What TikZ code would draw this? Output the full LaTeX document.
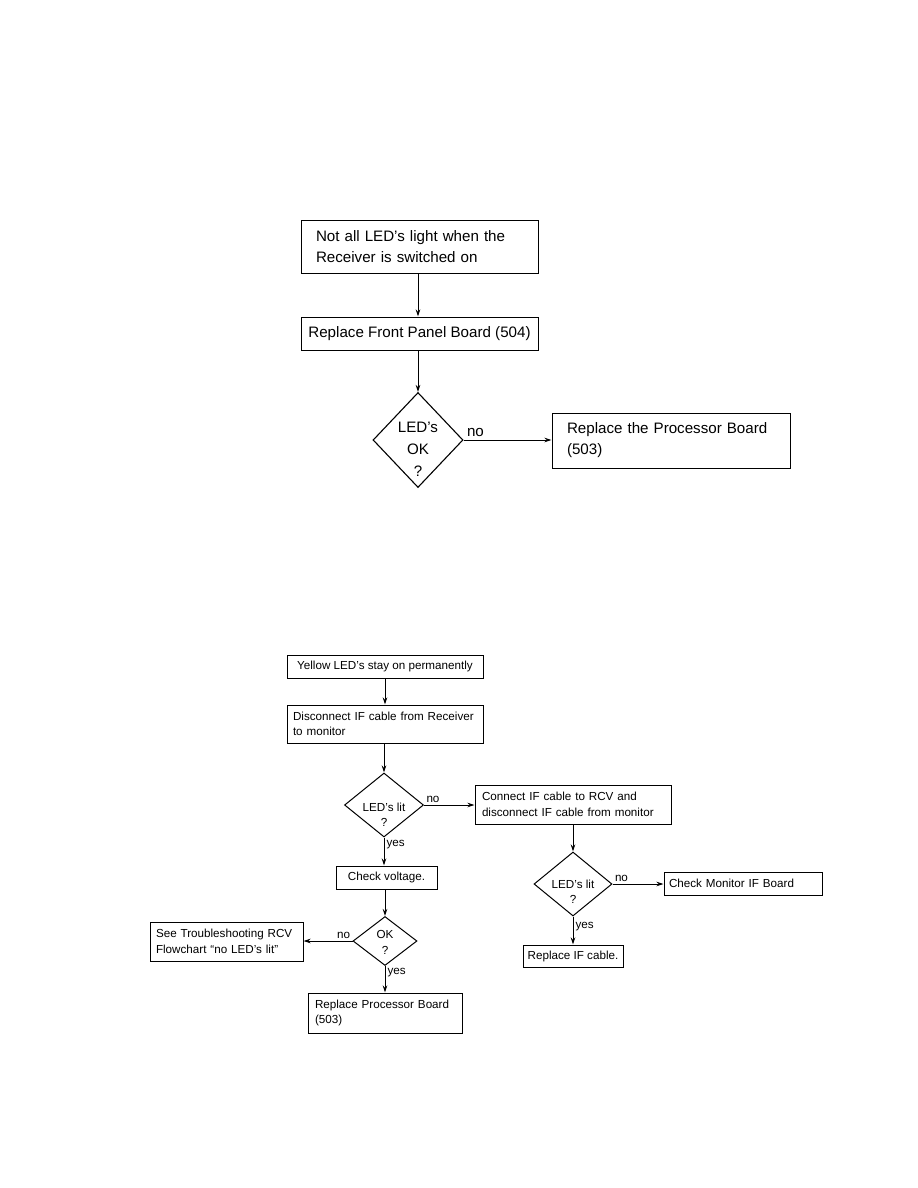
\documentclass[tikz,border=0pt]{standalone}
\usepackage{fontspec}
\setmainfont{Liberation Sans}
\usetikzlibrary{arrows.meta,shapes.geometric}

\newcommand{\bigtext}{\fontsize{15.2}{21}\selectfont}
\newcommand{\smalltext}{\fontsize{11.7}{15.5}\selectfont}

\begin{document}
\begin{tikzpicture}[x=1bp,y=-1bp,>={Stealth[length=7bp,width=4.5bp]},line width=1bp,
  bigbox/.style={draw,rectangle,align=left,font=\bigtext,inner xsep=15bp,inner ysep=0bp},
  smallbox/.style={draw,rectangle,align=left,font=\smalltext,inner xsep=7bp,inner ysep=0bp},
  decision/.style={draw,diamond,inner sep=0pt},
  bigask/.style={align=center,font=\fontsize{15.2}{22}\selectfont},
  smallask/.style={align=center,font=\smalltext},
  answer/.style={font=\smalltext,inner sep=2bp}]
  \useasboundingbox (0,0) rectangle (918,1188);

  % first flowchart
  \node[bigbox,text width=207bp,minimum height=53bp] (notall) at (419.5,246.5) {Not all LED's light when the\\Receiver is switched on};
  \node[bigbox,inner xsep=5bp,minimum width=237bp,minimum height=33bp] (front) at (419.5,333.5) {Replace Front Panel Board (504)};
  \node[decision,line width=1.1bp,minimum width=90bp,minimum height=95bp,
        label={[bigask,yshift=-9bp]center:{LED's\\OK\\?}}] (ledok) at (418,440) {};
  \node[bigbox,text width=208bp,minimum height=55bp] (proc) at (671,440.5) {Replace the Processor Board\\(503)};

  \draw[->] (ledok.north |- notall.south) -- (ledok.north |- front.north);
  \draw[->] (ledok.north |- front.south) -- (ledok.north);
  \draw[->] (ledok.east) -- node[pos=0,above right,font=\bigtext,inner sep=3bp] {no} (ledok.east -| proc.west);

  % second flowchart
  \node[smallbox,minimum width=196bp,minimum height=23bp] (yellow) at (385,666.5) {Yellow LED's stay on permanently};
  \node[smallbox,inner xsep=6bp,text width=184bp,minimum height=38bp] (disc) at (385,724) {Disconnect IF cable from Receiver\\to monitor};
  \node[decision,minimum width=79bp,minimum height=64bp,
        label={[smallask,yshift=-10bp]center:{LED's lit\\?}}] (lit1) at (384,805) {};
  \node[smallbox,text width=182bp,minimum height=39bp] (conn) at (573,804.5) {Connect IF cable to RCV and\\disconnect IF cable from monitor};
  \node[smallbox,minimum width=101bp,minimum height=23bp] (volt) at (386.5,877.5) {Check voltage.};
  \node[decision,minimum width=64bp,minimum height=49bp,
        label={[smallask,yshift=-1.5bp]center:{OK\\?}}] (okvolt) at (385,941) {};
  \node[smallbox,inner xsep=6bp,text width=141bp,minimum height=39bp] (see) at (226.5,941.5) {See Troubleshooting RCV\\Flowchart ``no LED's lit''};
  \node[smallbox,text width=140bp,minimum height=40bp] (proc2) at (385,1013) {Replace Processor Board\\(503)};
  \node[decision,minimum width=78bp,minimum height=64bp,
        label={[smallask,yshift=-8bp]center:{LED's lit\\?}}] (lit2) at (573,884) {};
  \node[smallbox,inner xsep=5bp,text width=148bp,minimum height=23bp] (monitor) at (743,883.5) {Check Monitor IF Board};
  \node[smallbox,inner xsep=3bp,minimum width=100bp,minimum height=22bp] (cable) at (573,956) {Replace IF cable.};

  \draw[->] (yellow) -- (disc);
  \draw[->] (lit1.north |- disc.south) -- (lit1.north);
  \draw[->] (lit1.east) -- node[pos=0,above right,answer] {no} (lit1.east -| conn.west);
  \draw[->] (lit1.south) -- node[pos=0,below right,answer] {yes} (lit1.south |- volt.north);
  \draw[->] (okvolt.north |- volt.south) -- (okvolt.north);
  \draw[->] (okvolt.west) -- node[pos=0,above left,answer] {no} (okvolt.west -| see.east);
  \draw[->] (okvolt.south) -- node[pos=0,below right,answer] {yes} (okvolt.south |- proc2.north);
  \draw[->] (lit2.north |- conn.south) -- (lit2.north);
  \draw[->] (lit2.east) -- node[pos=0,above right,answer] {no} (lit2.east -| monitor.west);
  \draw[->] (lit2.south) -- node[pos=0,below right,answer,yshift=-3bp] {yes} (lit2.south |- cable.north);
\end{tikzpicture}
\end{document}
